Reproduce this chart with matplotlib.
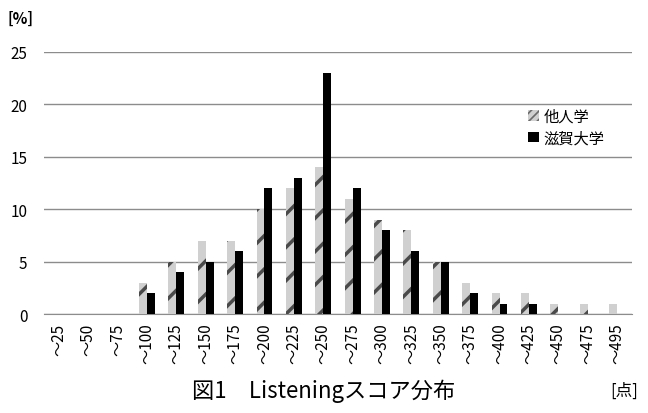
import matplotlib
matplotlib.use("Agg")
import matplotlib.pyplot as plt
from matplotlib.patches import Patch
import numpy as np

plt.rcParams['font.family'] = ['Noto Sans CJK JP', 'DejaVu Sans']
plt.rcParams['hatch.linewidth'] = 2.5

categories = ["〜25", "〜50", "〜75", "〜100", "〜125", "〜150", "〜175", "〜200", "〜225", "〜250",
              "〜275", "〜300", "〜325", "〜350", "〜375", "〜400", "〜425", "〜450", "〜475", "〜495"]
other_univ = [0, 0, 0, 3, 5, 7, 7, 10, 12, 14, 11, 9, 8, 5, 3, 2, 2, 1, 1, 1]
shiga_univ = [0, 0, 0, 2, 4, 5, 6, 12, 13, 23, 12, 8, 6, 5, 2, 1, 1, 0, 0, 0]
series_names = ["他人学", "滋賀大学"]

fig = plt.figure(figsize=(6.48, 4.14), dpi=100)
ax = fig.add_axes([0.068, 0.239, 0.907, 0.633])

x = np.arange(len(categories))
w = 0.27
ax.bar(x - w / 2, other_univ, width=w, facecolor='#d0d0d0', edgecolor='#4a4a4a',
       hatch='/', linewidth=0, zorder=3)
ax.bar(x + w / 2, shiga_univ, width=w, color='black', linewidth=0, zorder=3)

ax.set_xlim(-0.5, len(categories) - 0.5)
ax.set_ylim(0, 25)
ax.set_yticks(range(0, 26, 5))
ax.yaxis.grid(True, color='#8c8c8c', linewidth=1)
ax.set_axisbelow(True)
for s in ['left', 'right', 'top']:
    ax.spines[s].set_visible(False)
ax.spines['bottom'].set_color('#8c8c8c')
ax.tick_params(axis='y', length=0, labelsize=11, pad=12)
ax.tick_params(axis='x', length=0, labelsize=11, pad=6)
ax.set_xticks(x)
ax.set_xticklabels(categories, rotation=90)

handles = [
    Patch(facecolor='#d0d0d0', edgecolor='#6a6a6a', hatch='////', linewidth=0,
          label=series_names[0]),
    Patch(facecolor='black', linewidth=0, label=series_names[1]),
]
with plt.rc_context({'hatch.linewidth': 1.2}):
    ax.legend(handles=handles, loc='upper left', bbox_to_anchor=(0.8, 0.84),
              frameon=False, fontsize=11, handlelength=0.7, handleheight=0.7,
              handletextpad=0.3, labelspacing=0.3)

fig.text(0.012, 0.955, "[%]", fontsize=11, fontweight='bold', ha='left', va='center')
fig.text(0.5, 0.055, "図1　Listeningスコア分布", fontsize=16, ha='center', va='center')
fig.text(0.985, 0.055, "[点]", fontsize=12, ha='right', va='center')

fig.savefig("out.png", dpi=100)
